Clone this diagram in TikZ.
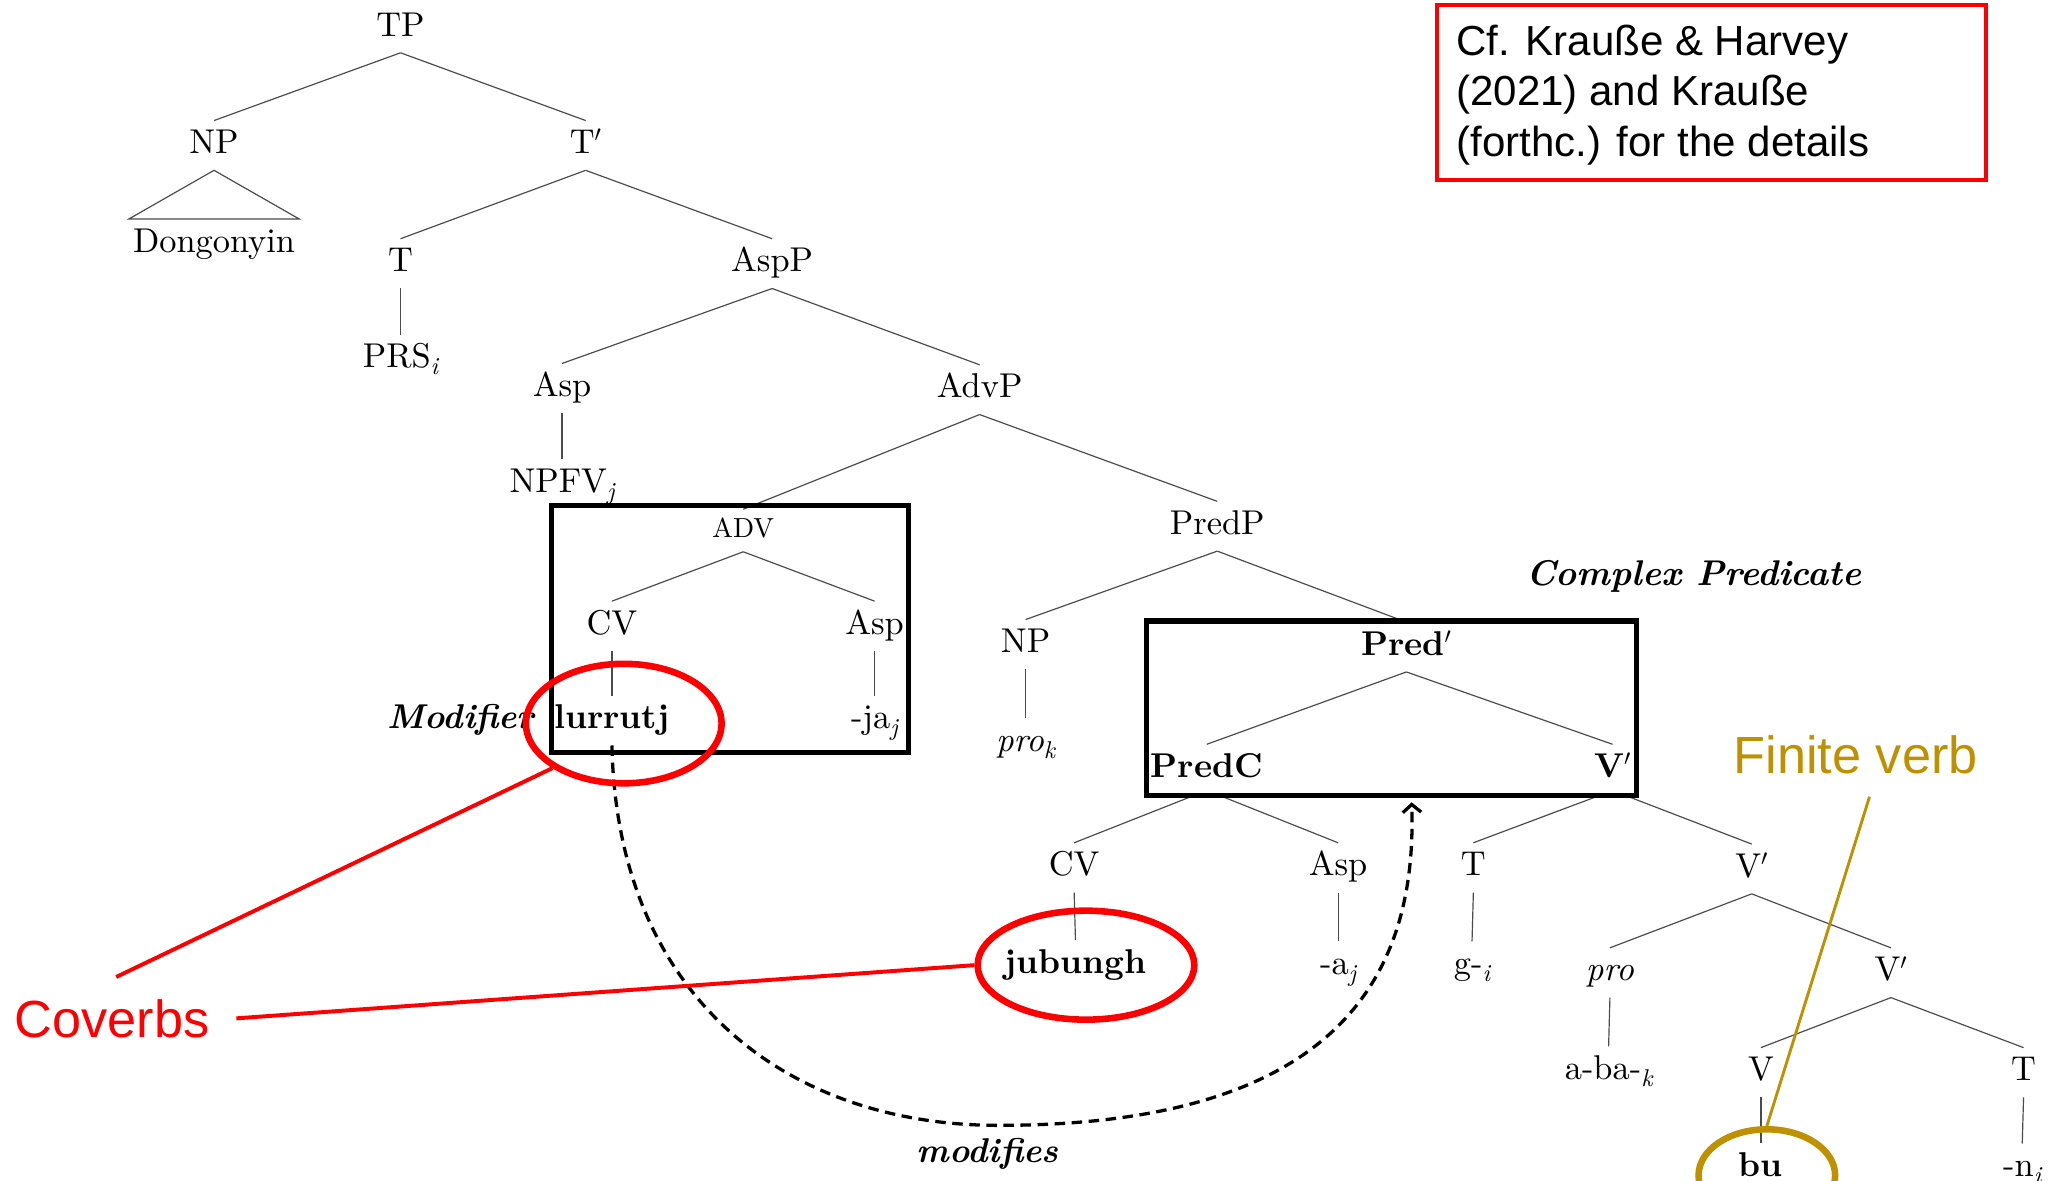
\documentclass[tikz,border=0pt]{standalone}
\usepackage{fontspec}
\setmainfont{lmroman10-regular.otf}[BoldFont=lmroman10-bold.otf, ItalicFont=lmroman10-italic.otf, BoldItalicFont=lmroman10-bolditalic.otf]
\newfontfamily\arialfont{Liberation Sans}
\usetikzlibrary{shapes.geometric,arrows.meta}
\definecolor{gold}{RGB}{191,144,0}
\definecolor{treegray}{RGB}{75,75,75}
\newcommand\trfont{\fontsize{26.2}{31}\selectfont}
\newcommand\advfont{\fontsize{21}{25}\selectfont}
\newcommand\sbs[1]{\raisebox{-0.2em}{\fontsize{18.5}{20}\selectfont\itshape #1}}
\newcommand\prm{\raisebox{0.05em}{$'$}}
\tikzset{
  tn/.style={anchor=base, inner xsep=3pt, inner ysep=6pt, text height=19pt, text depth=6.5pt, font=\trfont},
  tnb/.style={tn, font=\trfont\bfseries},
  tnsmall/.style={anchor=base, inner xsep=3pt, inner ysep=6pt, text height=15pt, text depth=5pt, font=\advfont},
  label/.style={font=\trfont\bfseries\itshape, inner sep=0pt},
  edge/.style={draw=treegray, line width=0.9pt},
  framebox/.style={draw=black, line width=4pt},
  redell/.style={ellipse, draw=red, line width=5pt, inner sep=0pt},
  goldell/.style={ellipse, draw=gold, line width=5pt, inner sep=0pt},
  redline/.style={draw=red, line width=3pt},
  goldline/.style={draw=gold, line width=2.2pt},
  dashline/.style={draw=black, line width=2.5pt, dash pattern=on 8pt off 5pt},
  sanslbl/.style={inner sep=0pt, anchor=base west}
}
\begin{document}
\begin{tikzpicture}[x=1pt,y=-1pt]
\useasboundingbox (0,0) rectangle (1568,899);

% tree nodes
\node[tn] (TP) at (305,27.5) {TP};
\node[tn] (NP1) at (163,117) {NP};
\node[tn] (Tb1) at (446,117) {T$'$};
\node[tn] (Dong) at (163,192) {Dongonyin};
\node[tn] (T1) at (305,207) {T};
\node[tn] (AspP) at (588,207) {AspP};
\node[tn] (PRS) at (305,280) {PRS\sbs{i}};
\node[tn] (Asp1) at (428,302) {Asp};
\node[tn] (AdvP) at (746,303) {AdvP};
\node[tn] (NPFV) at (428,375) {NPFV\sbs{j}};
\node[tnsmall] (ADV) at (566,409) {ADV};
\node[tn] (PredP) at (927,407) {PredP};
\node[tn] (CV1) at (466,483) {CV};
\node[tn] (Asp2) at (666,483) {Asp};
\node[tnb] (lurrutj) at (466,555) {lurrutj};
\node[tn] (ja) at (666,555) {-ja\sbs{j}};
\node[tn] (NP2) at (781,497) {NP};
\node[tnb] (Predb) at (1071,499) {Pred$'$};
\node[tn] (pro1) at (781,572) {\textit{pro}\sbs{k}};
\node[tnb] (PredC) at (919,592) {PredC};
\node[tnb] (Vb1) at (1228,592) {V$'$};
\node[tn] (CV2) at (818,667) {CV};
\node[tn] (Asp3) at (1019,667) {Asp};
\node[tn] (T2) at (1122,667) {T};
\node[tn] (Vb2) at (1334,668) {V$'$};
\node[tnb] (jub) at (819,741) {jubungh};
\node[tn] (aj) at (1019,742) {-a\sbs{j}};
\node[tn] (gi) at (1121,742) {g-\sbs{i}};
\node[tn] (pro2) at (1226,747) {\textit{pro}};
\node[tn] (Vb3) at (1440,747) {V$'$};
\node[tn] (aba) at (1225,822) {a-ba-\sbs{k}};
\node[tn] (V) at (1341,823) {V};
\node[tn] (T3) at (1541,823) {T};
\node[tnb] (bu) at (1341,896) {bu};
\node[tn] (ni) at (1540,896) {-n\sbs{i}};

% tree edges
\foreach \a/\b in {TP/NP1, TP/Tb1, Tb1/T1, Tb1/AspP, T1/PRS, AspP/Asp1, AspP/AdvP,
  Asp1/NPFV, AdvP/ADV, AdvP/PredP, ADV/CV1, ADV/Asp2, CV1/lurrutj, Asp2/ja,
  PredP/NP2, PredP/Predb, NP2/pro1, Predb/PredC, Predb/Vb1, CV2/jub, Asp3/aj,
  T2/gi, Vb2/pro2, Vb2/Vb3, pro2/aba, Vb3/V, Vb3/T3, V/bu, T3/ni}
  \draw[edge] (\a.south) -- (\b.north);
\draw[edge] ([xshift=-7pt]PredC.south) -- (CV2.north);
\draw[edge] ([xshift=7pt]PredC.south) -- (Asp3.north);
\draw[edge] ([xshift=-7pt]Vb1.south) -- (T2.north);
\draw[edge] ([xshift=7pt]Vb1.south) -- (Vb2.north);
\draw[edge] (NP1.south) -- (Dong.north west) -- (Dong.north east) -- cycle;

% boxes
\draw[framebox] (420,385) rectangle (692,573);
\draw[framebox] (873,473) rectangle (1246,606);

% labels
\node[label, anchor=base east] (modifier) at (407,555) {Modifier};
\node[label, anchor=base, font=\fontsize{27.2}{31}\selectfont\bfseries\itshape] (complex) at (1290,446) {Complex Predicate};
\node[label, anchor=base] (modifies) at (752,885) {modifies};

% dashed arrow
\coordinate (dip) at (760,857);
\coordinate (predbot) at (1075,611);
\draw[dashline, -{Straight Barb[length=6pt,width=14pt]}] (lurrutj.south) .. controls (470,760) and (600,857) .. (dip)
   .. controls (1000,857) and (1080,760) .. (predbot);

% reference box
\node[draw=red, line width=3pt, minimum width=418pt, minimum height=133pt, anchor=north west, inner sep=0pt] (refbox) at (1093,2.5) {};
\node[sanslbl, font=\arialfont\fontsize{32}{39}\selectfont] (ref1) at (1109,42) {Cf. Krauße \& Harvey};
\node[sanslbl, font=\arialfont\fontsize{32}{39}\selectfont] (ref2) at (1109,80) {(2021) and Krauße};
\node[sanslbl, font=\arialfont\fontsize{32}{39}\selectfont] (ref3) at (1109,119.5) {(forthc.) for the details};

% coverbs
\node[redell, minimum width=149pt, minimum height=91pt] (lurEll) at (475,551) {};
\node[redell, minimum width=165pt, minimum height=83pt] (jubEll) at (827,735) {};
\node[sanslbl, text=red, font=\arialfont\fontsize{39.8}{48}\selectfont] (cov) at (11,790) {Coverbs};
\coordinate (cv1) at (88.5,744);
\coordinate (cv2) at (180,775.5);
\draw[redline] (cv1) -- (lurEll.212);
\draw[redline] (cv2) -- (jubEll.180);

% finite verb
\node[goldell, minimum width=104pt, minimum height=70pt] (buEll) at (1345.5,895) {};
\node[sanslbl, text=gold, font=\arialfont\fontsize{39.8}{48}\selectfont] (fin) at (1320,589) {Finite verb};
\coordinate (fv1) at (1423.7,606.7);
\draw[goldline] (fv1) -- (buEll.north);
\end{tikzpicture}
\end{document}
